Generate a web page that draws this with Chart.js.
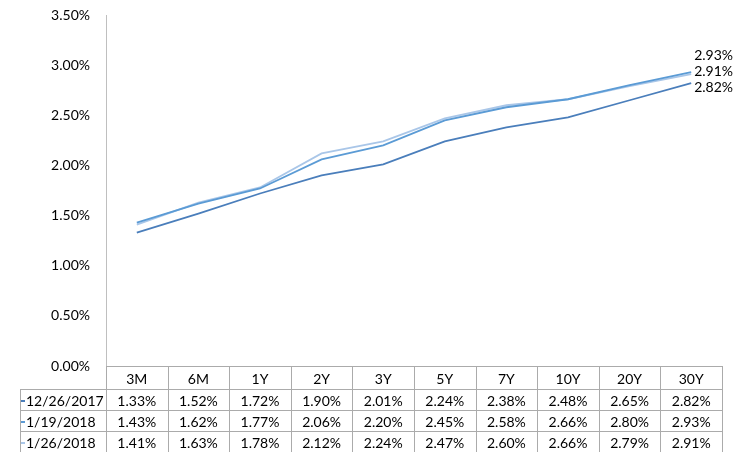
<!DOCTYPE html>
<html>
<head>
<meta charset="utf-8">
<script src="https://cdn.jsdelivr.net/npm/chart.js@4"></script>
<style>
html,body{margin:0;padding:0;background:#fff;}
canvas{display:block;}
</style>
</head>
<body>
<canvas id="c" width="750" height="452"></canvas>
<script>
const categories = ['3M','6M','1Y','2Y','3Y','5Y','7Y','10Y','20Y','30Y'];
const seriesNames = ['12/26/2017','1/19/2018','1/26/2018'];
const s20171226 = [1.33,1.52,1.72,1.90,2.01,2.24,2.38,2.48,2.65,2.82];
const s20180119 = [1.43,1.62,1.77,2.06,2.20,2.45,2.58,2.66,2.80,2.93];
const s20180126 = [1.41,1.63,1.78,2.12,2.24,2.47,2.60,2.66,2.79,2.91];
const yTicks = [0,0.5,1,1.5,2,2.5,3,3.5];
const seriesColors = ['#4A7EBB','#5B9BD5','#A9C6E8'];

const FONT = 'Lato, "Open Sans", sans-serif';
Chart.defaults.font.family = FONT;
Chart.defaults.font.size = 14;
Chart.defaults.color = '#000';

const fmt = v => v.toFixed(2) + '%';

const endLabels = {
  id: 'endLabels',
  afterDatasetsDraw(chart) {
    const ctx = chart.ctx;
    const pts = chart.data.datasets.map((ds, i) => {
      const meta = chart.getDatasetMeta(i);
      const p = meta.data[meta.data.length - 1];
      return {x: p.x, y: p.y, v: ds.data[ds.data.length - 1]};
    }).sort((a, b) => a.y - b.y);
    const mid = Math.floor(pts.length / 2);
    const baseY = pts[mid].y - 3;
    ctx.save();
    ctx.font = '14px ' + FONT;
    ctx.fillStyle = '#000';
    ctx.textAlign = 'left';
    ctx.textBaseline = 'middle';
    pts.forEach((p, k) => {
      ctx.fillText(fmt(p.v), p.x + 3, baseY + (k - mid) * 16);
    });
    ctx.restore();
  }
};

const dataTable = {
  id: 'dataTable',
  afterDraw(chart) {
    const ctx = chart.ctx;
    const x = chart.scales.x;
    const area = chart.chartArea;
    const n = chart.data.labels.length;
    const half = (x.getPixelForValue(1) - x.getPixelForValue(0)) / 2;
    const left = area.left, right = area.right;
    const labelLeft = 20;
    const top = area.bottom;
    const rows = [top, top + 23, top + 44, top + 65, top + 86];
    ctx.save();
    ctx.strokeStyle = '#ABABAB';
    ctx.lineWidth = 1;
    const hl = (x1, x2, yy) => { ctx.beginPath(); ctx.moveTo(x1, Math.round(yy) + 0.5); ctx.lineTo(x2, Math.round(yy) + 0.5); ctx.stroke(); };
    const vl = (xx, y1, y2) => { ctx.beginPath(); ctx.moveTo(Math.round(xx) + 0.5, y1); ctx.lineTo(Math.round(xx) + 0.5, y2); ctx.stroke(); };
    hl(left, right, rows[0]);
    for (let r = 1; r < rows.length; r++) hl(labelLeft, right, rows[r]);
    vl(labelLeft, rows[1], rows[4]);
    for (let i = 0; i <= n; i++) {
      const xx = i === 0 ? left : (i === n ? right : x.getPixelForValue(i) - half);
      vl(xx, rows[0], rows[4]);
    }
    ctx.font = '14px ' + FONT;
    ctx.fillStyle = '#000';
    ctx.textBaseline = 'middle';
    ctx.textAlign = 'center';
    chart.data.labels.forEach((lab, i) => {
      ctx.fillText(lab, x.getPixelForValue(i), (rows[0] + rows[1]) / 2 + 2);
    });
    chart.data.datasets.forEach((ds, r) => {
      const cy = (rows[r + 1] + rows[r + 2]) / 2 + 1.5;
      ctx.textAlign = 'center';
      ds.data.forEach((v, i) => ctx.fillText(fmt(v), x.getPixelForValue(i), cy));
      ctx.textAlign = 'left';
      ctx.fillText(ds.label, labelLeft + 6, cy);
      ctx.fillStyle = ds.borderColor;
      ctx.fillRect(labelLeft + 1, Math.round(cy) - 1, 4, 2);
      ctx.fillStyle = '#000';
    });
    ctx.restore();
  }
};

new Chart(document.getElementById('c'), {
  type: 'line',
  data: {
    labels: categories,
    datasets: [s20171226, s20180119, s20180126].map((d, i) => ({
      label: seriesNames[i],
      data: d,
      borderColor: seriesColors[i],
      backgroundColor: seriesColors[i],
      borderWidth: 1.8,
      pointRadius: 0,
      tension: 0,
      fill: false
    }))
  },
  options: {
    responsive: false,
    animation: false,
    layout: {padding: {top: 15, right: 28, bottom: 86, left: 0}},
    plugins: {legend: {display: false}, tooltip: {enabled: false}},
    scales: {
      x: {
        type: 'category',
        offset: true,
        display: false
      },
      y: {
        min: 0,
        max: 3.5,
        afterFit(s) { s.width = 106; },
        afterBuildTicks(s) { s.ticks = yTicks.map(v => ({value: v})); },
        grid: {display: false, drawTicks: true, tickLength: 16},
        border: {display: true, color: '#BFBFBF', width: 1},
        ticks: {padding: 0, callback: v => fmt(v), font: {size: 14}}
      }
    }
  },
  plugins: [endLabels, dataTable]
});
</script>
</body>
</html>
